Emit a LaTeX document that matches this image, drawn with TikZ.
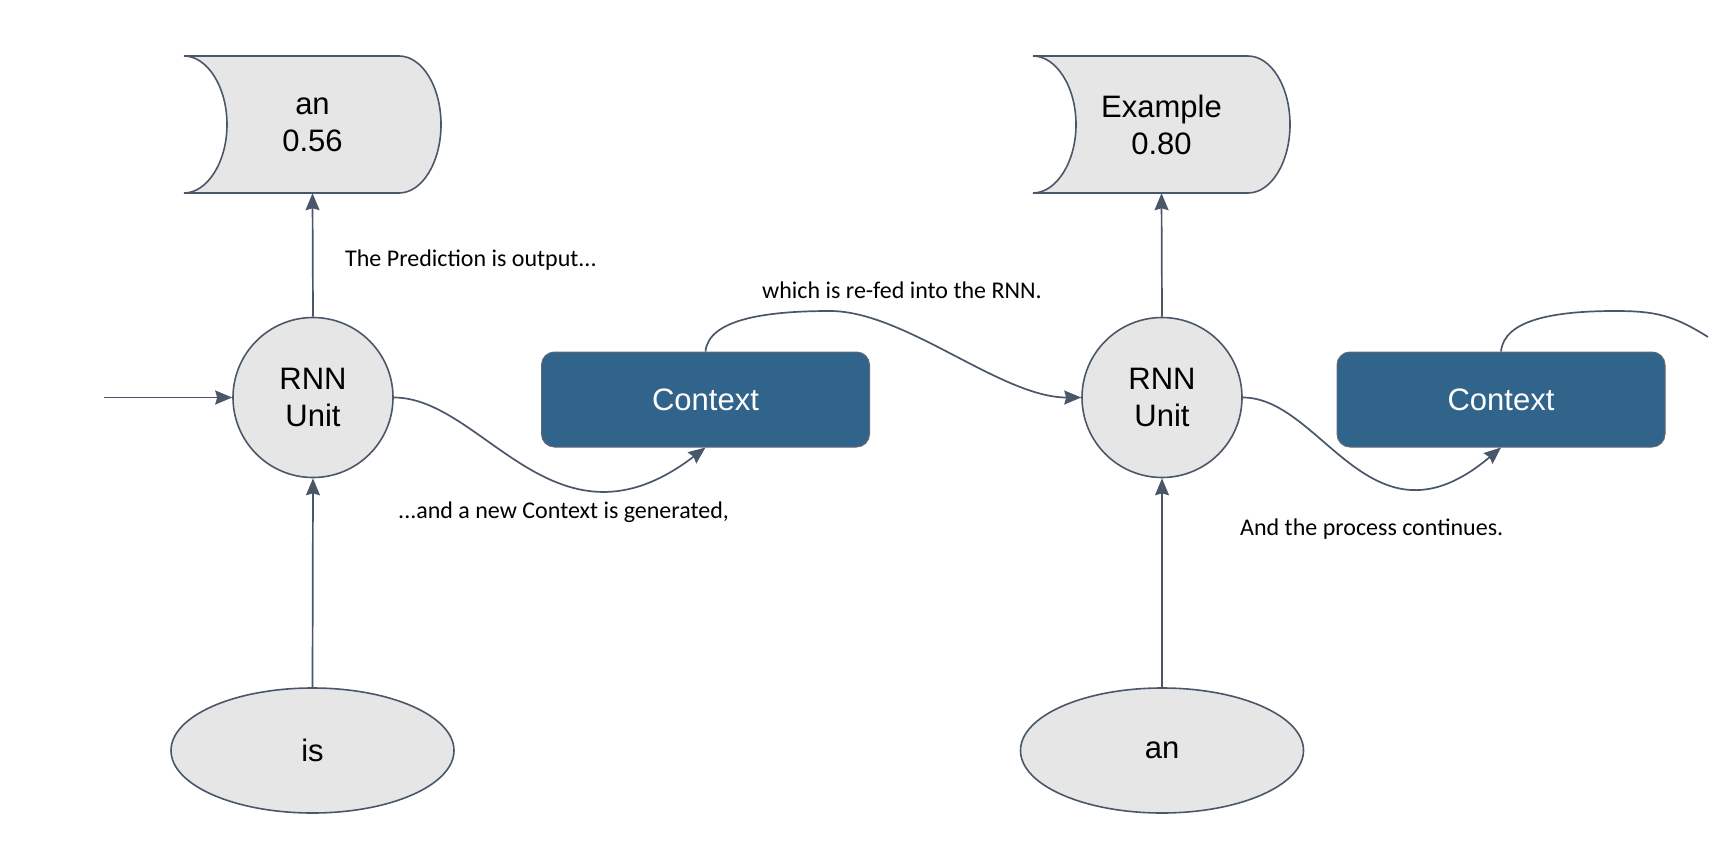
\documentclass[tikz,border=0pt]{standalone}
\usepackage{fontspec}
\setmainfont{Liberation Sans}
\newfontfamily\notefont{Carlito}
\usetikzlibrary{arrows.meta,shapes.geometric}

\definecolor{linegray}{RGB}{74,87,105}
\definecolor{boxgray}{RGB}{230,230,230}
\definecolor{ctxblue}{RGB}{49,100,139}
\definecolor{ctxline}{RGB}{95,105,118}

\tikzset{
  plain/.style={draw=linegray, line width=1.7pt},
  link/.style={plain, -{Stealth[length=17pt,width=14pt,inset=2pt]}},
  storeline/.style={draw=linegray, fill=boxgray, line width=1.6pt},
  store/.style={minimum width=257pt, minimum height=137pt, inner sep=0pt, align=center,
    font=\fontsize{31}{37}\selectfont},
  rnn/.style={circle, draw=linegray, fill=boxgray, line width=1.6pt, minimum size=160pt,
    inner sep=0pt, align=center, font=\fontsize{31}{37}\selectfont},
  word/.style={ellipse, draw=linegray, fill=boxgray, line width=1.6pt, minimum width=283pt,
    minimum height=125pt, inner sep=0pt, font=\fontsize{31}{37}\selectfont},
  ctxbox/.style={rectangle, rounded corners=13pt, draw=ctxline, fill=ctxblue, line width=1pt,
    text=white, minimum width=328pt, minimum height=95pt, font=\fontsize{31}{37}\selectfont},
  note/.style={anchor=base west, inner sep=0pt, font=\notefont\fontsize{24}{29}\selectfont},
}

% stored data shape: name, centre, text
\newcommand{\storedata}[3]{%
  \draw[storeline] (#2) ++(-128.5,-68.5) -- ++(215,0)
    .. controls +(23,0) and +(0,-38) .. ++(42,68.5)
    .. controls +(0,38) and +(23,0) .. ++(-42,68.5) -- ++(-215,0)
    .. controls +(23,0) and +(0,38) .. ++(43,-68.5)
    .. controls +(0,-38) and +(23,0) .. ++(-43,-68.5) -- cycle;
  \node[store] (#1) at (#2) {#3};
}

\begin{document}
\begin{tikzpicture}[x=1pt,y=-1pt]
  \useasboundingbox (0,0) rectangle (1726,846);

  % outputs
  \storedata{out1}{312.5,124.5}{an\\0.56}
  \storedata{out2}{1161.5,124.5}{Example\\0.80}

  % units, inputs and contexts
  \node[rnn] (rnn1) at (313,397.5) {RNN\\Unit};
  \node[rnn] (rnn2) at (1162,397.5) {RNN\\Unit};
  \node[word] (in1) at (312.5,750.5) {is};
  \node[word] (in2) at (1162,750.5) {an};
  \node[ctxbox] (ctx1) at (705.5,399.5) {Context};
  \node[ctxbox] (ctx2) at (1501,399.5) {Context};

  \coordinate (feed) at (104,397.5);
  \coordinate (peak1) at (830,311);
  \coordinate (peak2) at (1615,311);
  \coordinate (tail2) at (1708,337);

  % straight arrows
  \draw[link] (feed) -- (rnn1.west);
  \draw[link] (in1.north) -- (rnn1.south);
  \draw[link] (in2.north) -- (rnn2.south);
  \draw[link] (rnn1.north) -- (out1.south);
  \draw[link] (rnn2.north) -- (out2.south);

  % context loop
  \draw[link] (rnn1.east) .. controls +(90,0) and +(-150,115) .. (ctx1.south);
  \draw[link] (ctx1.north) .. controls +(3,-32) and +(-65,0) .. (peak1)
    .. controls +(75,0) and +(-80,0) .. (rnn2.west);
  \draw[link] (rnn2.east) .. controls +(80,0) and +(-130,110) .. (ctx2.south);
  \draw[plain] (ctx2.north) .. controls +(3,-32) and +(-60,0) .. (peak2)
    .. controls +(40,0) and +(-35,-22) .. (tail2);

  % notes
  \node[note] (n1) at (345,266) {The Prediction is output...};
  \node[note] (n2) at (762,298) {which is re-fed into the RNN.};
  \node[note] (n3) at (398,518) {...and a new Context is generated,};
  \node[note] (n4) at (1240,535) {And the process continues.};
\end{tikzpicture}
\end{document}
